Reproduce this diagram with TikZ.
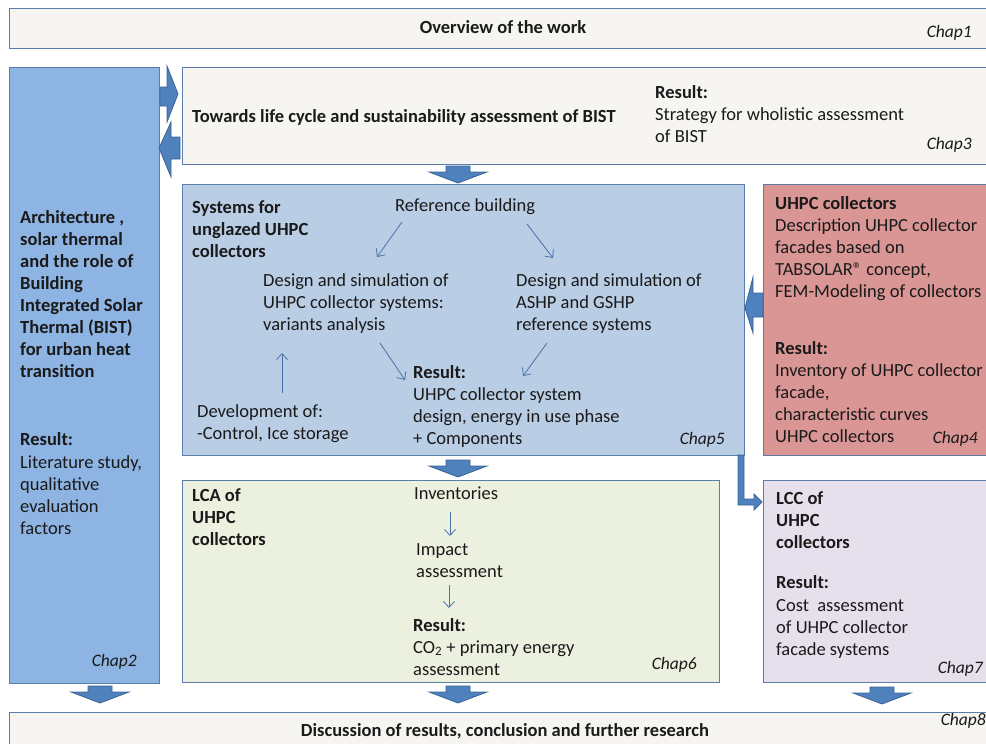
\documentclass[tikz,border=0pt]{standalone}
\usepackage{fontspec}
\setmainfont{Carlito}
\usetikzlibrary{arrows.meta}

\definecolor{paper}{HTML}{F6F5F1}
\definecolor{frame}{HTML}{5B7DAA}
\definecolor{archblue}{HTML}{8DB4E2}
\definecolor{sysblue}{HTML}{B9CDE5}
\definecolor{collred}{HTML}{D99694}
\definecolor{lcagreen}{HTML}{EBF1DE}
\definecolor{lcclilac}{HTML}{E6E0EC}
\definecolor{arrfill}{HTML}{4F81BD}
\definecolor{arrline}{HTML}{3A6396}
\definecolor{thinarr}{HTML}{4A72A8}
\definecolor{ink}{HTML}{1A1A1A}

\newcommand\bodysize{\fontsize{18.5}{22}\selectfont}
\newcommand\chapsize{\fontsize{17.5}{22}\selectfont}
% down-pointing block arrow, top centre at (#1,#2)
\newcommand\blockdown[2]{%
  \draw[blockarr, shift={(#1,#2)}]
    (-12,0) -- (12,0) -- (12,6) -- (29,6) -- (0,17) -- (-29,6) -- (-12,6) -- cycle;}

\begin{document}
\begin{tikzpicture}[x=1pt, y=-1pt,
  box/.style={draw=frame, line width=1.1pt, fill=#1, inner sep=0pt, anchor=north west},
  % multi-line texts are placed by the baseline of their last line
  txt/.style={anchor=base west, inner sep=0pt, align=left, text=ink, font=\bodysize},
  btxt/.style={txt, font=\bodysize\bfseries},
  ctxt/.style={anchor=base, inner sep=0pt, text=ink, font=\bodysize\bfseries},
  chap/.style={anchor=base east, inner sep=0pt, text=ink, font=\chapsize\itshape},
  blockarr/.style={fill=arrfill, draw=arrline, line width=0.8pt, line join=miter},
  flow/.style={draw=thinarr, line width=0.8pt, -{Straight Barb[length=6pt,width=11pt]}}]

\useasboundingbox (0,0) rectangle (986,744);

% ---- frames ----
\node[box=paper, minimum width=977pt, minimum height=40pt] (chap1) at (9,8) {};
\node[box=archblue, minimum width=150pt, minimum height=616pt] (chap2) at (9,67) {};
\node[box=paper, minimum width=806pt, minimum height=97pt] (chap3) at (182,67) {};
\node[box=sysblue, minimum width=562pt, minimum height=271pt] (chap5) at (182,184) {};
\node[box=collred, minimum width=225pt, minimum height=271pt] (chap4) at (763,184) {};
\node[box=lcagreen, minimum width=537pt, minimum height=202pt] (chap6) at (182,480) {};
\node[box=lcclilac, minimum width=225pt, minimum height=202pt] (chap7) at (763,480) {};
\node[box=paper, minimum width=977pt, minimum height=40pt] (chap8) at (9,712) {};

% ---- overview ----
\node[ctxt] (t1) at (503,34) {Overview of the work};
\node[chap] (c1) at (972,37) {Chap1};

% ---- chapter 2 ----
\node[btxt] (t2) at (20,377) {Architecture ,\\solar thermal\\and the role of\\Building\\Integrated Solar\\Thermal (BIST)\\for urban heat\\transition};
\node[btxt] (r2h) at (20,445) {Result:};
\node[txt] (r2) at (20,534) {Literature study,\\qualitative\\evaluation\\factors};
\node[chap] (c2) at (137,666) {Chap2};

% ---- chapter 3 ----
\node[btxt] (t3) at (192,122) {Towards life cycle and sustainability assessment of BIST};
\node[btxt] (r3h) at (655,98) {Result:};
\node[txt] (r3) at (655,142) {Strategy for wholistic assessment\\of BIST};
\node[chap] (c3) at (972,149) {Chap3};

% ---- chapter 5 ----
\node[btxt] (t5) at (192,257) {Systems for\\unglazed UHPC\\collectors};
\node[txt] (ref) at (395,211) {Reference building};
\node[txt] (var) at (263,330) {Design and simulation of\\UHPC collector systems:\\variants analysis};
\node[txt] (hp) at (516,330) {Design and simulation of\\ASHP and GSHP\\reference systems};
\node[btxt] (r5h) at (413,378) {Result:};
\node[txt] (r5) at (413,444) {UHPC collector system\\design, energy in use phase\\+ Components};
\node[txt] (dev) at (197,439) {Development of:\\-Control, Ice storage};
\node[chap] (c5) at (725,444) {Chap5};

\coordinate (a1s) at (402,222); \coordinate (a1e) at (377,257);
\coordinate (a2s) at (527,224); \coordinate (a2e) at (553,258);
\coordinate (a3s) at (380,343); \coordinate (a3e) at (405,380);
\coordinate (a4s) at (547,343); \coordinate (a4e) at (523,376);
\coordinate (a5s) at (282,393); \coordinate (a5e) at (282,353);
\draw[flow] (a1s) -- (a1e);
\draw[flow] (a2s) -- (a2e);
\draw[flow] (a3s) -- (a3e);
\draw[flow] (a4s) -- (a4e);
\draw[flow] (a5s) -- (a5e);

% ---- chapter 4 ----
\node[btxt] (t4) at (775,209) {UHPC collectors};
\node[txt] (d4) at (775,297) {Description UHPC collector\\facades based on\\TABSOLAR® concept,\\FEM-Modeling of collectors};
\node[btxt] (r4h) at (775,354) {Result:};
\node[txt] (r4) at (775,442) {Inventory of UHPC collector\\facade,\\characteristic curves\\UHPC collectors};
\node[chap] (c4) at (978,443) {Chap4};

% ---- chapter 6 ----
\node[btxt] (t6) at (192,545) {LCA of\\UHPC\\collectors};
\node[txt] (inv) at (414,499) {Inventories};
\node[txt] (imp) at (416,577) {Impact\\assessment};
\node[btxt] (r6h) at (413,631) {Result:};
\node[txt] (r6) at (413,675) {CO\textsubscript{2} + primary energy\\assessment};
\node[chap] (c6) at (697,669) {Chap6};
\coordinate (b1s) at (450,512); \coordinate (b1e) at (450,536);
\coordinate (b2s) at (449,585); \coordinate (b2e) at (449,608);
\draw[flow] (b1s) -- (b1e);
\draw[flow] (b2s) -- (b2e);

% ---- chapter 7 ----
\node[btxt] (t7) at (776,548) {LCC of\\UHPC\\collectors};
\node[btxt] (r7h) at (776,588) {Result:};
\node[txt] (r7) at (776,655) {Cost\ \ assessment\\of UHPC collector\\facade systems};
\node[chap] (c7) at (983,673) {Chap7};

% ---- chapter 8 ----
\node[ctxt] (t8) at (505,736) {Discussion of results, conclusion and further research};
\node[chap] (c8) at (986,725) {Chap8};

% ---- block arrows ----
% chap2 -> chap3
\draw[blockarr] (160,87) -- (167,87) -- (167,66) -- (178,94) -- (167,122) -- (167,106) -- (160,106) -- cycle;
% chap3 -> chap2
\draw[blockarr] (180,137) -- (171,137) -- (171,122) -- (159,148) -- (171,177) -- (171,159) -- (180,159) -- cycle;
% chap4 -> chap5
\draw[blockarr] (763,293) -- (753,293) -- (753,277) -- (745,308) -- (753,333) -- (753,317) -- (763,317) -- cycle;
% chap5 -> chap7 (bent)
\draw[blockarr] (738,455) -- (744,455) -- (744,499) -- (754,499) -- (754,494) -- (762,502)
  -- (754,510) -- (754,505) -- (738,505) -- cycle;
% downward arrows
\blockdown{458}{166}
\blockdown{458}{460}
\blockdown{100}{686}
\blockdown{458}{686}
\blockdown{882}{687}
\end{tikzpicture}
\end{document}
